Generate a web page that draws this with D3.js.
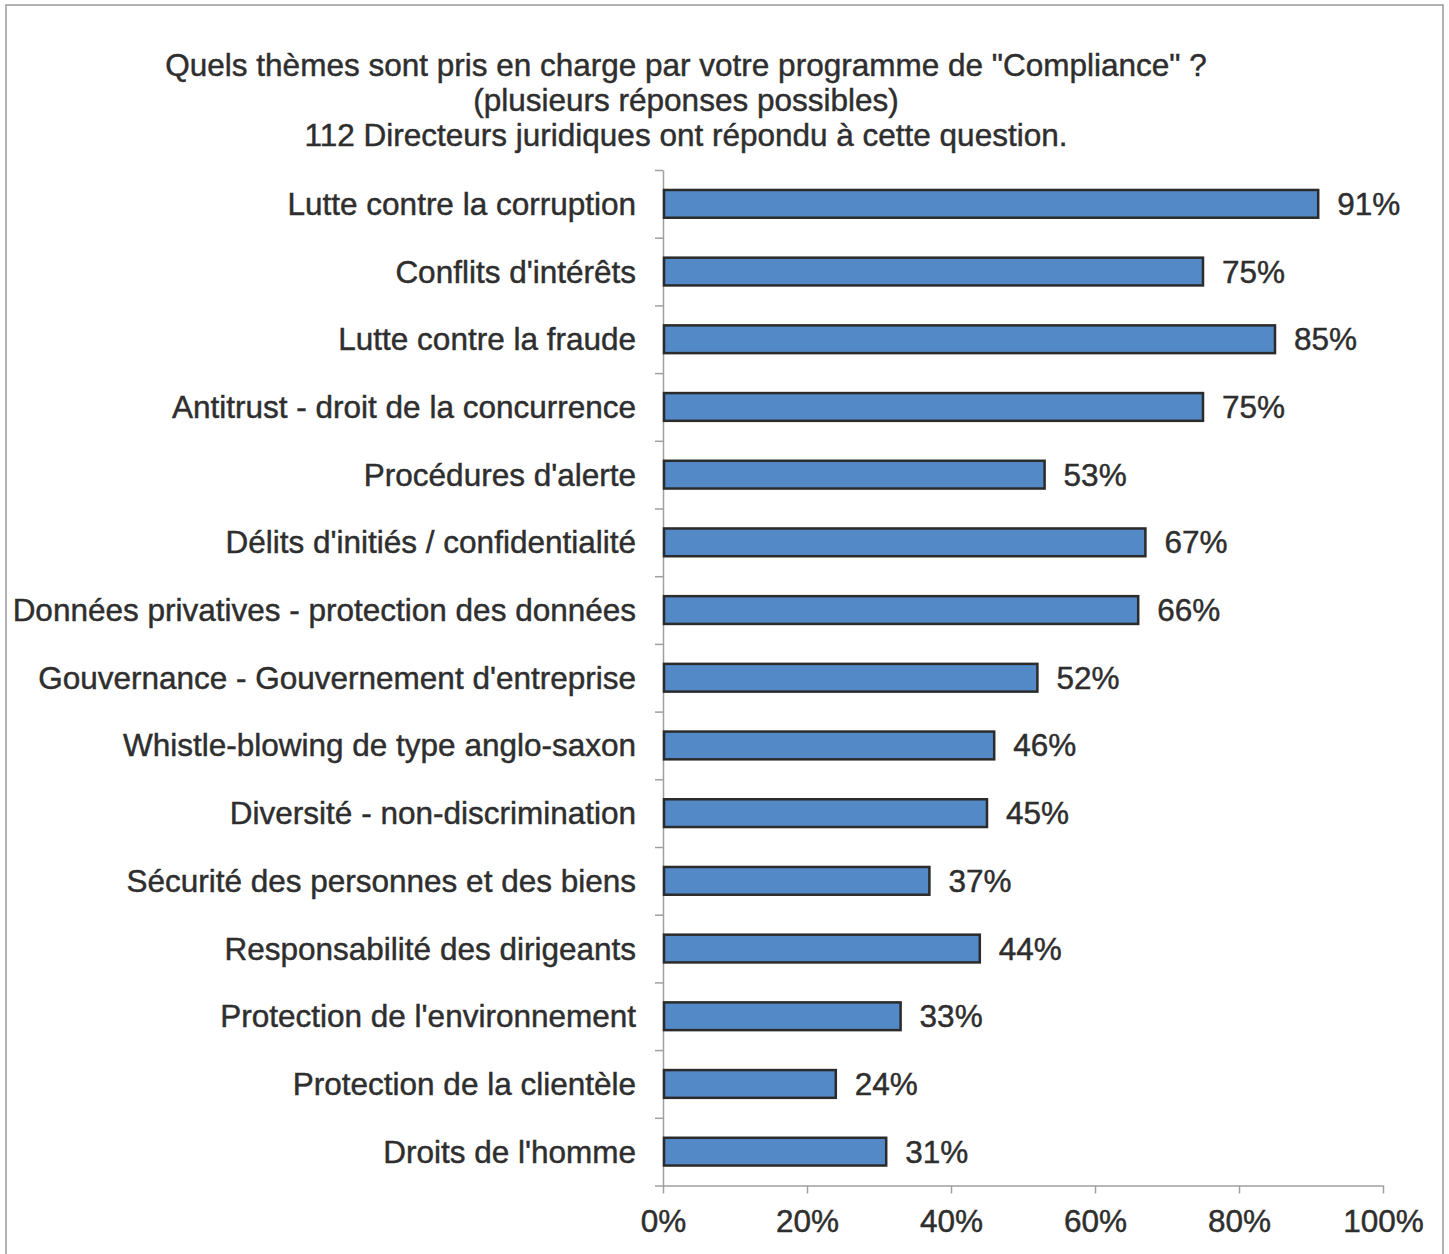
<!DOCTYPE html>
<html><head><meta charset="utf-8">
<script src="https://cdn.jsdelivr.net/npm/d3@7"></script>
<style>
html,body{margin:0;padding:0;background:#fff;}
svg{display:block;}
text{font-family:"Liberation Sans",Arial,Helvetica,sans-serif;fill:#2e2e2e;stroke:#2e2e2e;stroke-width:0.45px;}
</style></head><body>
<svg id="chart" width="1449" height="1254"></svg>
<script>
const categories = [
  "Lutte contre la corruption",
  "Conflits d'intérêts",
  "Lutte contre la fraude",
  "Antitrust - droit de la concurrence",
  "Procédures d'alerte",
  "Délits d'initiés / confidentialité",
  "Données privatives - protection des données",
  "Gouvernance - Gouvernement d'entreprise",
  "Whistle-blowing de type anglo-saxon",
  "Diversité - non-discrimination",
  "Sécurité des personnes et des biens",
  "Responsabilité des dirigeants",
  "Protection de l'environnement",
  "Protection de la clientèle",
  "Droits de l'homme"
];
const values = [91, 75, 85, 75, 53, 67, 66, 52, 46, 45, 37, 44, 33, 24, 31];
const xTicks = [0, 20, 40, 60, 80, 100];
const titleLines = [
  "Quels thèmes sont pris en charge par votre programme de \"Compliance\" ?",
  "(plusieurs réponses possibles)",
  "112 Directeurs juridiques ont répondu à cette question."
];

(function () {
const svg = d3.select("#chart");
const mLeft = 663, mRight = 1383, mTop = 170, mBottom = 1185.5;
const fs = 31.5;

svg.append("rect").attr("x", 6).attr("y", 5).attr("width", 1437).attr("height", 1260)
  .attr("fill", "none").attr("stroke", "#9a9a9a").attr("stroke-width", 1.5);

// title
const tY = [76, 111, 146];
svg.append("g").selectAll("text").data(titleLines).join("text")
  .attr("x", 686).attr("y", (d, i) => tY[i])
  .attr("text-anchor", "middle").attr("font-size", fs)
  .text(d => d);

const x = d3.scaleLinear().domain([0, 100]).range([mLeft, mRight]);
const y = d3.scaleBand().domain(categories).range([mTop, mBottom]).paddingInner(0.59).paddingOuter(0.295);
const yb = d3.scaleLinear().domain([0, categories.length]).range([mTop, mBottom]);

// y axis (boundary ticks)
const yAxis = svg.append("g").attr("transform", `translate(${mLeft},0)`)
  .call(d3.axisLeft(yb).tickValues(d3.range(0, categories.length + 1)).tickSize(8).tickSizeOuter(0).tickFormat(""));
yAxis.selectAll("path,line").attr("stroke", "#a0a0a0").attr("stroke-width", 1.5);

// x axis
const xAxis = svg.append("g").attr("transform", `translate(0,${mBottom})`)
  .call(d3.axisBottom(x).tickValues(xTicks).tickSize(8).tickSizeOuter(0).tickPadding(16).tickFormat(d => d + "%"));
xAxis.select(".domain").attr("stroke", "#a0a0a0").attr("stroke-width", 1.5);
xAxis.selectAll("line").attr("stroke", "#a0a0a0").attr("stroke-width", 1.5);
xAxis.selectAll("text").attr("font-size", fs).attr("fill", "#2e2e2e").attr("font-family", "Liberation Sans, Arial, sans-serif");

// category labels
svg.append("g").selectAll("text").data(categories).join("text")
  .attr("x", 636).attr("y", d => y(d) + y.bandwidth() / 2)
  .attr("dy", "0.35em").attr("text-anchor", "end").attr("font-size", fs)
  .text(d => d);

// bars
svg.append("g").selectAll("rect").data(values).join("rect")
  .attr("x", x(0) + 1).attr("y", (d, i) => y(categories[i]))
  .attr("width", d => x(d) - x(0) - 1).attr("height", y.bandwidth())
  .attr("fill", "#5289c6").attr("stroke", "#2b2b2b").attr("stroke-width", 2.5);

// value labels
svg.append("g").selectAll("text").data(values).join("text")
  .attr("x", d => x(d) + 19).attr("y", (d, i) => y(categories[i]) + y.bandwidth() / 2)
  .attr("dy", "0.35em").attr("font-size", fs)
  .text(d => d + "%");
})();
</script>
</body></html>
